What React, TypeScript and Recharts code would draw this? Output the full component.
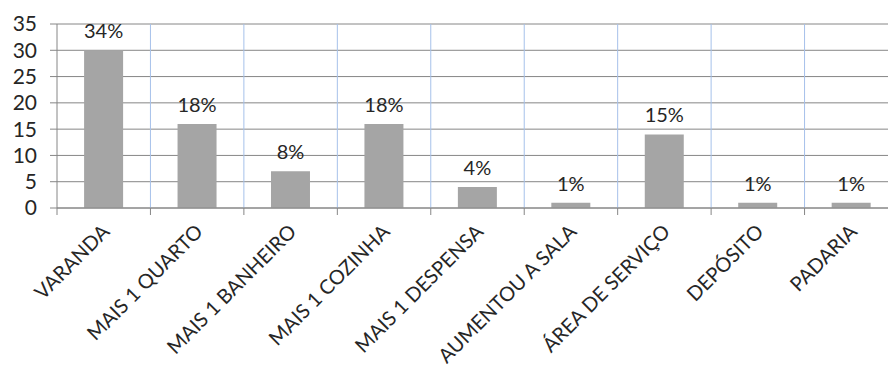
import { BarChart, Bar, XAxis, YAxis, CartesianGrid, LabelList } from "recharts"

const categories = [
  "VARANDA",
  "MAIS 1 QUARTO",
  "MAIS 1 BANHEIRO",
  "MAIS 1 COZINHA",
  "MAIS 1 DESPENSA",
  "AUMENTOU A SALA",
  "ÁREA DE SERVIÇO",
  "DEPÓSITO",
  "PADARIA"
]
const counts = [30, 16, 7, 16, 4, 1, 14, 1, 1]
const percentLabels = ["34%", "18%", "8%", "18%", "4%", "1%", "15%", "1%", "1%"]
const yTicks = [0, 5, 10, 15, 20, 25, 30, 35]

const data = categories.map((name, i) => ({
  name,
  value: counts[i],
  label: percentLabels[i]
}))

const CHART_W = 900
const CHART_H = 374
const LEFT = 57
const RIGHT = 2
const TOP = 24
const XAXIS_H = 166
const FONT = "Lato, 'Open Sans', sans-serif"
const TEXT = "#262626"
const AXIS = "#868686"

const band = (CHART_W - LEFT - RIGHT) / categories.length

function CategoryTick(props: any) {
  const { x, y, payload } = props
  const left = x - band / 2
  return (
    <g>
      <line x1={left} y1={y - 8} x2={left} y2={y - 1} stroke={AXIS} strokeWidth={1} />
      <text
        x={x + 7}
        y={y + 17}
        textAnchor="end"
        fontSize={20}
        fontFamily={FONT}
        fill={TEXT}
        transform={`rotate(-45, ${x + 7}, ${y + 17})`}
      >
        {payload.value}
      </text>
    </g>
  )
}

export default function App() {
  return (
    <div style={{ position: "absolute", left: 0, top: 0, width: 888, height: 374, overflow: "hidden", background: "#fff" }}>
      <BarChart
        width={CHART_W}
        height={CHART_H}
        data={data}
        margin={{ top: TOP, right: RIGHT, bottom: 0, left: 0 }}
        barCategoryGap="29%"
      >
        <CartesianGrid
          horizontal={true}
          vertical={false}
          stroke={AXIS}
        />
        <CartesianGrid
          horizontal={false}
          vertical={true}
          stroke="#a6c1ea"
          verticalCoordinatesGenerator={({ offset }: any) =>
            categories.slice(1).map((_, i) => offset.left + (i + 1) * (offset.width / categories.length))
          }
        />
        <XAxis
          dataKey="name"
          interval={0}
          height={XAXIS_H}
          stroke={AXIS}
          tickLine={false}
          tick={<CategoryTick />}
        />
        <YAxis
          domain={[0, 35]}
          ticks={yTicks}
          interval={0}
          width={LEFT}
          stroke={AXIS}
          tickSize={7}
          tickMargin={13}
          tick={{ fontSize: 21, fontFamily: FONT, fill: TEXT }}
        />
        <Bar dataKey="value" fill="#a5a5a5" isAnimationActive={false}>
          <LabelList
            dataKey="label"
            position="top"
            offset={12}
            fontSize={20}
            fontFamily={FONT}
            fill={TEXT}
          />
        </Bar>
      </BarChart>
    </div>
  )
}
